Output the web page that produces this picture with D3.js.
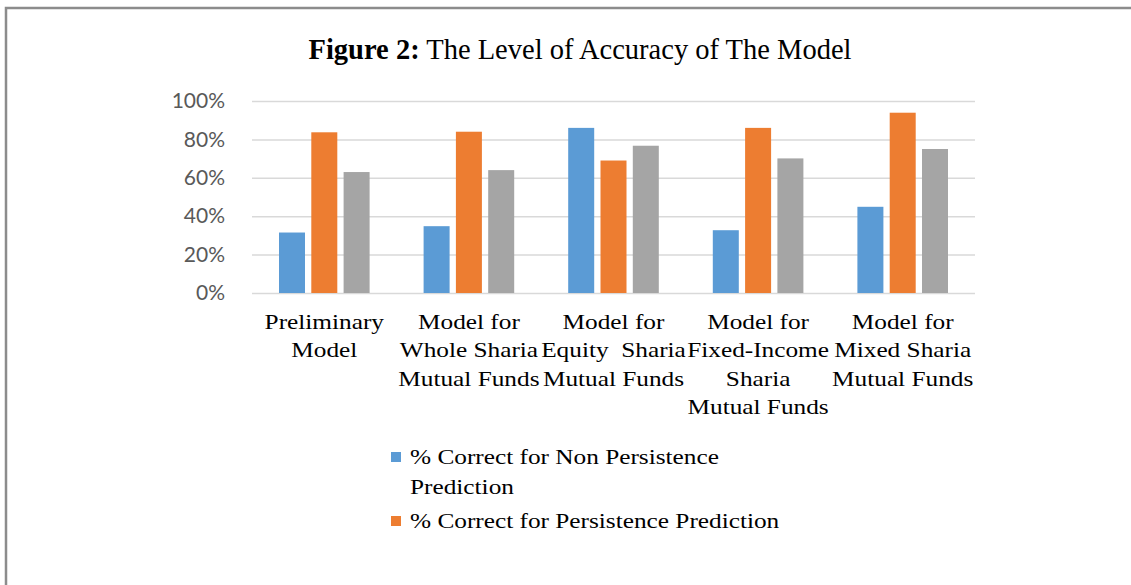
<!DOCTYPE html>
<html>
<head>
<meta charset="utf-8">
<script src="https://cdn.jsdelivr.net/npm/d3@7"></script>
<style>
  body { margin: 0; background: #fff; }
  .grid line { stroke: #d9d9d9; stroke-width: 1.5px; }
</style>
</head>
<body>
<div id="chart"></div>
<script>

const CATEGORIES = [
  ["Preliminary", "Model"],
  ["Model for", "Whole Sharia", "Mutual Funds"],
  ["Model for", "Equity  Sharia", "Mutual Funds"],
  ["Model for", "Fixed-Income", "Sharia", "Mutual Funds"],
  ["Model for", "Mixed Sharia", "Mutual Funds"]
];
const NON_PERSIST = [31.5, 34.8, 86, 32.7, 44.9];
const PERSIST = [83.7, 84, 69, 86, 93.9];
const OVERALL = [63, 64, 76.7, 70.1, 75];
const Y_TICKS = [0, 20, 40, 60, 80, 100];

const FRAME_WIDTH = 1131;
const FRAME_HEIGHT = 585;
const MARGINS = {left: 252, right: 156, top: 101, bottom: 292};
const VIS_WIDTH = FRAME_WIDTH - MARGINS.left - MARGINS.right;
const VIS_HEIGHT = FRAME_HEIGHT - MARGINS.top - MARGINS.bottom;
const COLORS = ["#5b9bd5", "#ed7d31", "#a5a5a5"];
const BAR_W = 26;
const BAR_STEP = 32.3;
const STRETCH = 1.15;   // reference text is stretched sideways

const svg = d3.select("#chart")
              .append("svg")
                .attr("width", FRAME_WIDTH)
                .attr("height", FRAME_HEIGHT);

// page frame
svg.append("path")
   .attr("d", "M6," + FRAME_HEIGHT + " L6,8 L" + FRAME_WIDTH + ",8")
   .attr("fill", "none")
   .attr("stroke", "#8c8c8c")
   .attr("stroke-width", 2.5);

// title
const title = svg.append("text")
   .attr("x", 580)
   .attr("y", 59)
   .attr("text-anchor", "middle")
   .attr("font-family", "'Liberation Serif', serif")
   .attr("font-size", "28.5px")
   .attr("fill", "#000");
title.append("tspan").attr("font-weight", "bold").text("Figure 2:");
title.append("tspan").text(" The Level of Accuracy of The Model");

const data = CATEGORIES.map((c, i) => ({
  idx: i, values: [NON_PERSIST[i], PERSIST[i], OVERALL[i]]
}));

const X_SCALE = d3.scaleBand()
                  .domain(d3.range(CATEGORIES.length))
                  .range([0, VIS_WIDTH]);

const Y_SCALE = d3.scaleLinear()
                  .domain([0, 100])
                  .range([VIS_HEIGHT, 0]);

const g = svg.append("g")
             .attr("transform", "translate(" + MARGINS.left + "," + MARGINS.top + ")");

// gridlines
g.append("g")
 .attr("class", "grid")
 .call(d3.axisLeft(Y_SCALE).tickValues(Y_TICKS).tickSize(-VIS_WIDTH).tickFormat(""))
 .call(a => a.select(".domain").remove());

// y tick labels
g.append("g")
 .attr("transform", "translate(-24,0)")
 .call(d3.axisLeft(Y_SCALE).tickValues(Y_TICKS).tickSize(0).tickFormat(d => d + "%"))
 .call(a => a.select(".domain").remove())
 .selectAll("text")
   .attr("font-family", "Lato, 'Noto Sans', sans-serif")
   .attr("font-size", "21px")
   .attr("fill", "#595959");

// bars, three per category centred in the band
const groups = g.selectAll(".group")
  .data(data)
  .enter()
  .append("g")
    .attr("transform", d => "translate(" + (X_SCALE(d.idx) + X_SCALE.bandwidth() / 2) + ",0)");

groups.selectAll("rect")
  .data(d => d.values.map((v, j) => ({v: v, j: j})))
  .enter()
  .append("rect")
    .attr("x", d => (d.j - 1) * BAR_STEP - BAR_W / 2)
    .attr("y", d => Y_SCALE(d.v))
    .attr("width", BAR_W)
    .attr("height", d => VIS_HEIGHT - Y_SCALE(d.v))
    .attr("fill", d => COLORS[d.j]);

// category labels
const catLabels = g.selectAll(".cat")
  .data(data)
  .enter()
  .append("text")
    .attr("text-anchor", "middle")
    .attr("font-family", "'Liberation Serif', serif")
    .attr("font-size", "22px")
    .attr("fill", "#000")
    .attr("transform", d => "translate(" + (X_SCALE(d.idx) + X_SCALE.bandwidth() / 2) + "," + (VIS_HEIGHT + 36) + ") scale(" + STRETCH + ",1)");

catLabels.selectAll("tspan")
  .data(d => CATEGORIES[d.idx])
  .enter()
  .append("tspan")
    .attr("x", 0)
    .attr("dy", (d, i) => i === 0 ? 0 : 28.5)
    .attr("xml:space", "preserve")
    .text(d => d);

// legend (only two entries visible in the reference)
const legend = svg.append("g").attr("transform", "translate(391,0)");
const legendRows = [
  {j: 0, lines: ["% Correct for Non Persistence", "Prediction"], y: 464},
  {j: 1, lines: ["% Correct for Persistence Prediction"], y: 528}
];
legendRows.forEach(r => {
  legend.append("rect")
    .attr("x", 0)
    .attr("y", r.y - 12)
    .attr("width", 10)
    .attr("height", 10)
    .attr("fill", COLORS[r.j]);
  const t = legend.append("text")
    .attr("transform", "translate(19," + r.y + ") scale(" + STRETCH + ",1)")
    .attr("font-family", "'Liberation Serif', serif")
    .attr("font-size", "22px")
    .attr("fill", "#000");
  t.selectAll("tspan")
   .data(r.lines)
   .enter()
   .append("tspan")
     .attr("x", 0)
     .attr("dy", (d, i) => i === 0 ? 0 : 30)
     .text(d => d);
});

</script>
</body>
</html>
